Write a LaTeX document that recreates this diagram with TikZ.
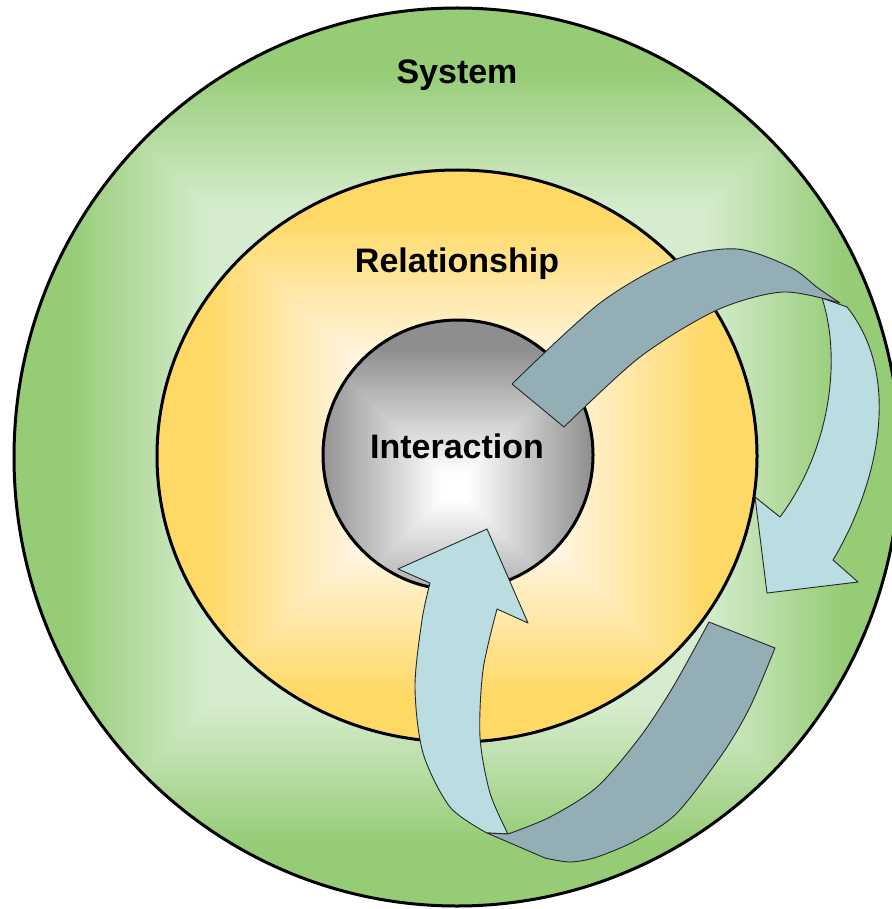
\documentclass[tikz,border=0pt]{standalone}
\usepackage{fontspec}
\setmainfont{Liberation Sans}
\definecolor{gE}{HTML}{96CC76}
\definecolor{gC}{HTML}{D6ECCE}
\definecolor{yE}{HTML}{FFD966}
\definecolor{yC}{HTML}{FFF7EA}
\definecolor{sE}{HTML}{8E8E8E}
\definecolor{sC}{HTML}{FFFFFF}
\definecolor{darkband}{HTML}{93AFB5}
\definecolor{lightband}{HTML}{BADDE2}
\begin{document}
\begin{tikzpicture}[x=1pt,y=-1pt,
  band/.style={draw=black!85, line width=0.9pt, line join=round},
  ring/.style={draw=black, line width=3pt},
  txt/.style={font=\fontsize{34}{40}\selectfont\bfseries, inner sep=0pt, anchor=base}]
\useasboundingbox (0,0) rectangle (891,909);
% outer system circle
\begin{scope}
\clip (457,457) ellipse [x radius=443, y radius=449];
\foreach \i in {0,...,46}{
  \pgfmathsetmacro\d{470-5*\i}
  \pgfmathsetmacro\p{max(0,min(100,(\d-250)/1.4))}
  \fill[gE!\p!gC] ({457-\d},{457-\d}) rectangle ({457+\d},{457+\d});
}
\end{scope}
\draw[ring] (457,457) ellipse [x radius=443, y radius=449];
% relationship ellipse
\begin{scope}
\clip (457,456) ellipse [x radius=300, y radius=286];
\foreach \i in {0,...,62}{
  \pgfmathsetmacro\d{310-5*\i}
  \pgfmathsetmacro\p{max(0,min(100,(\d-90)/1.5))}
  \fill[yE!\p!yC] ({457-1.05*\d},{456-\d}) rectangle ({457+1.05*\d},{456+\d});
}
\end{scope}
\draw[ring] (457,456) ellipse [x radius=300, y radius=286];
% interaction sphere
\begin{scope}
\clip (458,455) circle [radius=135];
\foreach \i in {0,...,45}{
  \pgfmathsetmacro\d{180-4*\i}
  \pgfmathsetmacro\p{max(0,min(100,(\d-15)/1.25))}
  \fill[sE!\p!sC] ({455-\d},{487-\d}) rectangle ({455+\d},{487+\d});
}
\end{scope}
\draw[ring] (458,455) circle [radius=135];
% labels
\node[txt] (sys) at (457,84) {System};
\node[txt] (rel) at (457,272) {Relationship};
\node[txt] (int) at (457,458) {Interaction};
% arrow 1 (top right)
\filldraw[band, fill=lightband] (822,298) .. controls (842,360) and (830,450) .. (780,517)
  -- (755,497) -- (767,593) -- (858,582) -- (833,560)
  .. controls (875,490) and (905,380) .. (847,307) -- cycle;
\filldraw[band, fill=darkband] (512,384) -- (564,427)
  -- plot[smooth] coordinates {(564,427) (640,357) (717,310) (783,292) (840,303)}
  -- plot[smooth] coordinates {(840,303) (818,288) (790,267) (737,249) (677,259) (600,303) (512,384)} -- cycle;
% arrow 2 (bottom)
\filldraw[band, fill=lightband] plot[smooth] coordinates {(508,834) (490,793) (480,737) (483,670) (497,609)}
  -- (528,623) -- (487,529) -- (398,569)
  -- plot[smooth] coordinates {(430,583) (422,620) (415,687) (423,753) (450,807) (487,833)} -- cycle;
\filldraw[band, fill=darkband] (709,622) -- (775,648)
  -- plot[smooth] coordinates {(775,648) (750,707) (723,753) (677,813) (637,840) (597,857) (570,862) (545,858)}
  -- (487,833)
  -- plot[smooth] coordinates {(508,834) (550,817) (597,787) (640,737) (673,687) (709,622)} -- cycle;
\end{tikzpicture}
\end{document}
